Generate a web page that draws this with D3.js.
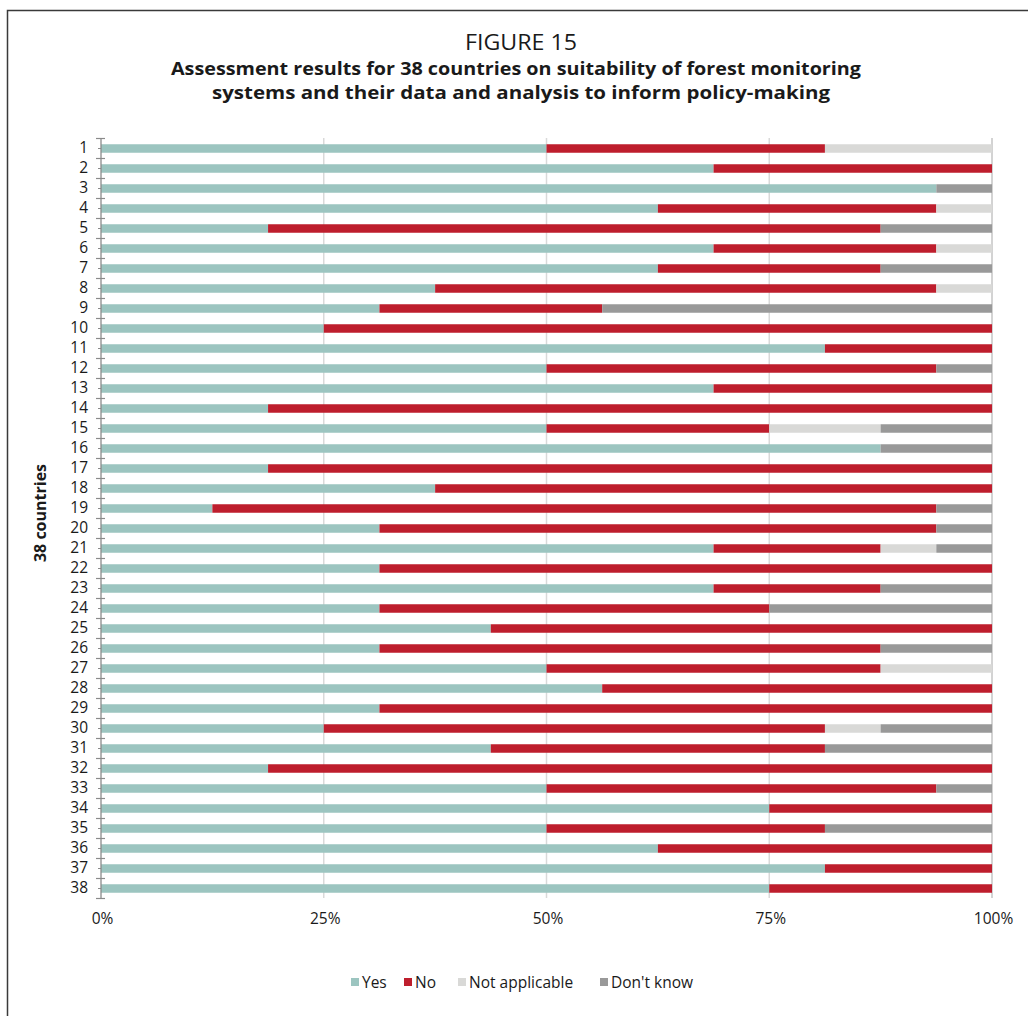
<!DOCTYPE html>
<html>
<head>
<meta charset="utf-8">
<script src="https://cdn.jsdelivr.net/npm/d3@7"></script>
<style>
  html, body { margin: 0; padding: 0; background: #fff; }
  svg { display: block; }
</style>
</head>
<body>
<svg id="chart" width="1028" height="1016"></svg>
<script>
// ---- Data (percent of 16 assessed questions) ----
const countries = d3.range(1, 39).map(String);
const yesValues = [50,68.75,93.75,62.5,18.75,68.75,62.5,37.5,31.25,25,81.25,50,68.75,18.75,50,87.5,18.75,37.5,12.5,31.25,68.75,31.25,68.75,31.25,43.75,31.25,50,56.25,31.25,25,43.75,18.75,50,75,50,62.5,81.25,75];
const noValues  = [31.25,31.25,0,31.25,68.75,25,25,56.25,25,75,18.75,43.75,31.25,81.25,25,0,81.25,62.5,81.25,62.5,18.75,68.75,18.75,43.75,56.25,56.25,37.5,43.75,68.75,56.25,37.5,81.25,43.75,25,31.25,37.5,18.75,25];
const naValues  = [18.75,0,0,6.25,0,6.25,0,6.25,0,0,0,0,0,0,12.5,0,0,0,0,0,6.25,0,0,0,0,0,12.5,0,0,6.25,0,0,0,0,0,0,0,0];
const dkValues  = [0,0,6.25,0,12.5,0,12.5,0,43.75,0,0,6.25,0,0,12.5,12.5,0,0,6.25,6.25,6.25,0,12.5,25,0,12.5,0,0,0,12.5,18.75,0,6.25,0,18.75,0,0,0];
const seriesNames = ["Yes", "No", "Not applicable", "Don't know"];
const seriesColors = ["#9cc5c0", "#be1e2d", "#d9d9d7", "#999999"];
const xTickValues = [0, 25, 50, 75, 100];
const titleLine0 = "FIGURE 15";
const titleLine1 = "Assessment results for 38 countries on suitability of forest monitoring";
const titleLine2 = "systems and their data and analysis to inform policy-making";
const yAxisTitle = "38 countries";

const rows = countries.map((c, i) => ({
  country: c,
  "Yes": yesValues[i],
  "No": noValues[i],
  "Not applicable": naValues[i],
  "Don't know": dkValues[i]
}));

const svg = d3.select("#chart");
const FONT = "'Open Sans', 'Noto Sans', sans-serif";

// frame
svg.append("rect")
  .attr("x", 7.5).attr("y", 10.5)
  .attr("width", 1100).attr("height", 1100)
  .attr("fill", "none").attr("stroke", "#3a3a3a").attr("stroke-width", 1.5);

// titles
const cx = 516;
svg.append("text").attr("x", cx + 5).attr("y", 50)
  .attr("text-anchor", "middle").attr("font-family", FONT)
  .attr("font-size", 22).attr("fill", "#1a1a1a")
  .attr("textLength", 112).attr("lengthAdjust", "spacingAndGlyphs")
  .text(titleLine0);
svg.append("text").attr("x", cx).attr("y", 75)
  .attr("text-anchor", "middle").attr("font-family", FONT)
  .attr("font-size", 18).attr("font-weight", "bold").attr("fill", "#1a1a1a")
  .attr("textLength", 690).attr("lengthAdjust", "spacingAndGlyphs")
  .text(titleLine1);
svg.append("text").attr("x", cx + 5).attr("y", 99)
  .attr("text-anchor", "middle").attr("font-family", FONT)
  .attr("font-size", 18).attr("font-weight", "bold").attr("fill", "#1a1a1a")
  .attr("textLength", 618).attr("lengthAdjust", "spacingAndGlyphs")
  .text(titleLine2);

// scales
const x = d3.scaleLinear().domain([0, 100]).range([101, 992]);
const pad = 0.575;
const y = d3.scaleBand().domain(countries).range([138.5, 898.5]).paddingInner(pad).paddingOuter(pad / 2);

// gridlines
svg.append("g").selectAll("line")
  .data(xTickValues.filter(d => d > 0))
  .join("line")
  .attr("x1", d => x(d)).attr("x2", d => x(d))
  .attr("y1", 138).attr("y2", 898)
  .attr("stroke", d => d === 100 ? "#c4c4c4" : "#d9d9d9")
  .attr("stroke-width", 1.5);

// stacked bars
const stack = d3.stack().keys(seriesNames);
const stacked = stack(rows);
const color = d3.scaleOrdinal().domain(seriesNames).range(seriesColors);

svg.append("g").selectAll("g")
  .data(stacked)
  .join("g")
  .attr("fill", d => color(d.key))
  .selectAll("rect")
  .data(d => d.filter(s => s[1] - s[0] > 0))
  .join("rect")
  .attr("x", d => x(d[0]))
  .attr("width", d => x(d[1]) - x(d[0]))
  .attr("y", d => y(d.data.country))
  .attr("height", y.bandwidth());

// y axis
const yAxis = d3.axisLeft(y).tickSize(3).tickPadding(10);
const yg = svg.append("g").attr("transform", "translate(101,0)").call(yAxis);
yg.select(".domain").attr("stroke", "#8a8a8a").attr("stroke-width", 1.3)
  .attr("d", "M0,138V898");
yg.selectAll(".tick line").attr("stroke", "#8a8a8a");
yg.selectAll(".tick text").attr("font-family", FONT).attr("font-size", 15.5).attr("fill", "#1a1a1a");

// boundary ticks
const bounds = d3.range(0, countries.length + 1).map(i => 138.5 + i * y.step());
svg.append("g").selectAll("line")
  .data(bounds)
  .join("line")
  .attr("x1", 96).attr("x2", 105)
  .attr("y1", d => d).attr("y2", d => d)
  .attr("stroke", "#8a8a8a").attr("stroke-width", 1.2);

// x axis labels
const xAxis = d3.axisBottom(x).tickValues(xTickValues).tickFormat(d => d + "%").tickSize(0).tickPadding(0);
const xg = svg.append("g").attr("transform", "translate(1,913)").call(xAxis);
xg.select(".domain").remove();
xg.selectAll(".tick text").attr("font-family", FONT).attr("font-size", 15.5).attr("fill", "#1a1a1a");

// y axis title
svg.append("text")
  .attr("transform", "translate(46,513) rotate(-90)")
  .attr("text-anchor", "middle").attr("font-family", FONT)
  .attr("font-size", 16).attr("font-weight", "bold").attr("fill", "#1a1a1a")
  .text(yAxisTitle);

// legend
const legendX = [351, 404, 458, 600];
const lg = svg.append("g").selectAll("g")
  .data(seriesNames)
  .join("g")
  .attr("transform", (d, i) => `translate(${legendX[i]},982)`);
lg.append("rect").attr("x", 0).attr("y", -4).attr("width", 8).attr("height", 8)
  .attr("fill", d => color(d));
lg.append("text").attr("x", 11).attr("y", 5.5)
  .attr("font-family", FONT).attr("font-size", 15.5).attr("fill", "#1a1a1a")
  .text(d => d);
</script>
</body>
</html>
